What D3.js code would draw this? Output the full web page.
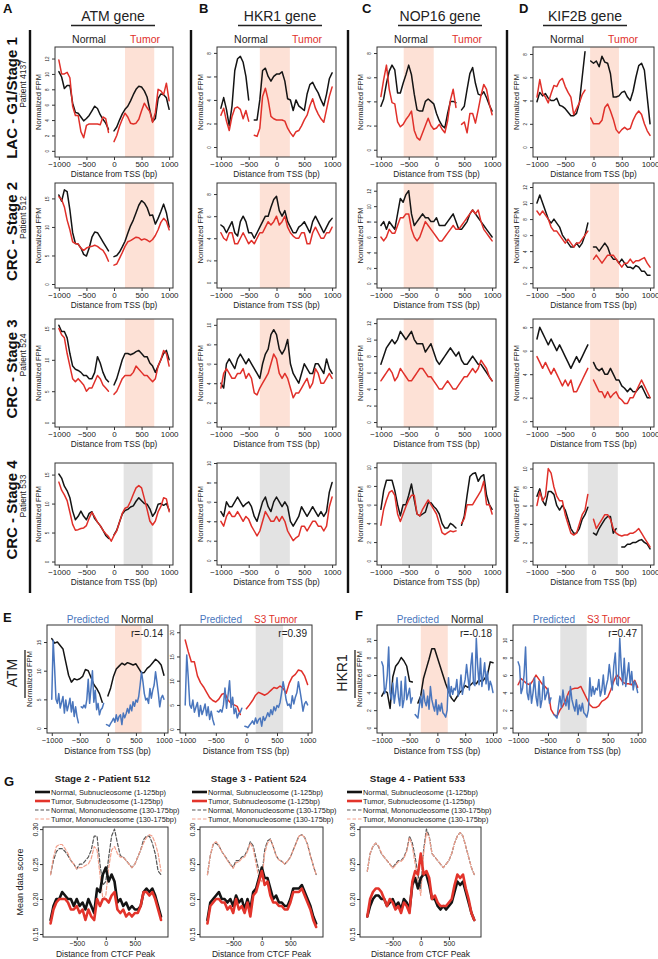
<!DOCTYPE html>
<html><head><meta charset="utf-8">
<script src="https://cdn.jsdelivr.net/npm/d3@7"></script>
<style>
body{margin:0;background:#fff;}
svg{display:block;font-family:Arial,"Liberation Sans",Helvetica,sans-serif;}
</style></head><body>
<svg id="c" width="658" height="959"></svg>
<script>
// ---------------- DATA ----------------
const BP = [-1000,-950,-900,-850,-800,-750,-700,-650,-600,-550,-500,-450,-400,-350,-300,-250,-200,-150,-100,-50,0,50,100,150,200,250,300,350,400,450,500,550,600,650,700,750,800,850,900,950,1000];
const BP25 = [-1000,-975,-950,-925,-900,-875,-850,-825,-800,-775,-750,-725,-700,-675,-650,-625,-600,-575,-550,-525,-500,-475,-450,-425,-400,-375,-350,-325,-300,-275,-250,-225,-200,-175,-150,-125,-100,-75,-50,-25,0,25,50,75,100,125,150,175,200,225,250,275,300,325,350,375,400,425,450,475,500,525,550,575,600,625,650,675,700,725,750,775,800,825,850,875,900,925,950,975,1000];
const BPG = [-950,-900,-850,-800,-750,-700,-650,-600,-550,-500,-450,-400,-350,-300,-250,-200,-150,-100,-50,0,50,100,150,200,250,300,350,400,450,500,550,600,650,700,750,800,850,900,950];

const genes = ["ATM gene","HKR1 gene","NOP16 gene","KIF2B gene"];
const letters = ["A","B","C","D"];
const stages = ["LAC - G1/Stage 1","CRC - Stage 2","CRC - Stage 3","CRC - Stage 4"];
const patients = ["Patient 4137","Patient 512","Patient 524","Patient 533"];
const shadeS13 = [[200,730],[-300,240],[-590,-50],[-60,450]];
const shadeS4 = [[175,700],[-300,240],[-620,-80],[-100,430]];
const xTicksTSS = [-1000,-500,0,500,1000];

// Row 1 (LAC stage 1)
const A1N=[10.3,9.6,8.1,8.5,8.5,6.2,5,4.9,4.4,3.9, 4.2,4.6,5.2,5.8,5.5,4.7,4.1,3.6,2.8,null, 2.6,3.1,4,4.8,5.4,5.8,6.5,7.3,8,8.4, 8.3,7.8,7,5.3,3.8,4.2,6.8,7.4,7.3,6.9, 5.4];
const A1T=[11.8,10,10,10.2,9.5,5.8,4.6,4.6,2.5,1.7, 3.3,3.5,3.5,3.5,3.5,3.4,4.4,4.2,2.4,null, 1.2,2,3.2,4.1,4.9,4.4,3.6,3.5,3.6,4.1, 5.2,6.2,5.6,5.1,3.7,5,8,7.8,7.3,8.8, 6.5];
const B1N=[3.3,4.2,3.2,1.8,3.5,6.5,7.5,7.7,7.2,6, 4,null,2.3,2.3,4,6.5,6.7,6,5.6,6, 6.2,6.2,6.4,5.6,4.1,4,3.1,4,3.5,3.3, 3.1,4.5,5.3,5.5,5,4.6,4,3.5,4.5,5.8, 6.3];
const B1T=[2.7,3.3,2.2,1.4,2.6,3.3,3.4,3.2,2.4,3.1, 2.2,null,1,0.9,1.6,4.3,5,4,2.6,2.4, 2.3,2.3,2.3,2.2,1.6,1.2,0.9,1.3,1.4,1.8, 2.3,2.7,3.5,4.1,3.3,2.8,2.4,2.1,3.2,4.3, 5.1];
const C1N=[3.6,4.2,5.5,6.5,7,6.6,4.7,4.7,5.5,6.2, 7,6.2,4.6,3.3,3.2,3.2,4,4.2,4,3.8, 3,2.4,2,1.8,3,4,4,3.9,null,3.3, 3.6,5,6.3,6.8,5.5,4.6,4.5,4.8,4.3,3.7, 3.2];
const C1T=[4.4,5.8,7,5,3.9,3.8,2.3,1.9,2.1,2.5, 2.8,3.2,1.6,1,0.8,1.4,2,2.6,2,1.7, 1.8,2.1,1.7,1.4,2.4,4.1,5,3.5,null,2.1, 2.3,1.4,3,3,2.2,3.3,4.5,5.4,5,3.8, 2.9];
const D1N=[3.9,4.7,4.4,4.6,4.2,4,4,4.2,3.6,3.5, 3.3,3,2.7,2.7,2.9,3.8,6,8.2,null,7.4, 7.2,7.4,6.9,7.8,7.3,7.2,6.3,4.3,4.3,4.4, 4.7,4.8,4.3,4,4.8,6,7,7.2,6.6,4.3, 2];
const D1T=[4.3,5.8,4.6,4.3,3.8,4.6,5.3,5.2,5.7,5.9, 5.2,4.7,4.3,2.8,3.3,3.8,4.5,4.9,null,2.5, 2,2,2,2.3,3.4,3.7,3.1,2.4,1.5,1.2, 1.5,1.7,1.5,1.6,2.3,2.8,3.1,2.8,2,1.4, 1];
// Row 2 (CRC stage 2)
const A2N=[15.6,14.5,16.5,16.2,13,9,7.1,7,6.3,5.2, 4.9,6.3,8.2,9.1,9,8.2,7.4,6.6,5.8,null, 4.8,5,5.6,6.5,7.5,8.9,10.2,11.2,12.5,13.8, 14.6,14.2,13.4,12,12.1,10.5,11.5,12.7,14,12.5, 10];
const A2T=[15.3,14.8,13.5,11.2,9.5,7.4,7.1,7,6.3,5.9, 6.3,6.5,6.6,6.8,6.6,6.2,5.9,5.1,4,null, 3.3,3.5,4.5,5.5,6.6,7.4,7.6,7.9,8.2,8.1, 7.7,7.9,7.7,7.4,7.8,8.5,9.5,10.8,11.5,11, 9.5];
const B2N=[5.2,5,4.5,5,5.5,4.5,4.2,5.5,6,5.5, 4.5,4.5,4,4.5,5,5.5,6,6,6.8,7.5, 7.8,6.5,6,6.5,5.5,5,4.5,4.5,5,5.2, 5.5,5,4.5,5.5,6,5.5,5,4.5,5,5.5, 5.8];
const B2T=[4.5,4,3.8,4.5,4.5,3.5,3.5,4,4.5,4, 3.5,3.8,3.5,4,4.5,4.5,5,5.5,5.2,5.5, 6,5.2,5.5,6,5,4.5,4.2,4,4,4.5, 4.5,3.5,3.5,4.5,5,4.5,4,4,4.5,4.5, 5];
const C2N=[7.5,8,7,8,7.5,7,9,11,10.5,11.5, 12,9,7.5,8,8.5,9,8.5,8.5,8,8, 8.5,7.5,7.5,7.5,8,8.5,9,8,7,7, 7.5,8,9,9.5,9,8.5,8,7.5,7,6.5, 6];
const C2T=[6,5.5,6,7,6.5,6.5,7.5,8.5,8.5,9, 9,7,6,5.5,6,7,8,7.5,7,6.5, 6,5.5,5.5,6,6.5,7,7.5,7,7,7.5, 8,8.5,9,9.5,9,9.5,8,7,6.5,6, 5.5];
const D2N=[10,11,10,9,8,7.5,8,7.5,7,6, 5.5,5,4.5,4.5,5,4.5,5,6,7.5,null, 4.5,4.5,4,4.5,5,4.5,3.5,3,3,2.5, 3,2.5,2,2,1.8,2.2,2,1.5,1.5,1, 1];
const D2T=[9,8.5,9,8.5,8,7,6.5,6.5,6,5.5, 5,5.5,5,4.5,5,5,5.5,6,6.5,null, 3,3.5,3,2.5,3,3.5,3.5,3.5,3,2.5, 2,2.5,2.5,3,2.5,2.8,2.8,3,3.2,2.5, 2];
// Row 3 (CRC stage 3)
const A3N=[15.5,14.5,14.5,13.5,11,9,8.5,8.3,8,7.5, 7.5,7,7,8,10.5,9.5,8,7,6.5,null, 6,7,8.5,10,11,11,10.8,11,11.3,11.5, 11,10.5,10.5,9.5,9,8,9,10,11,11.5, 10];
const A3T=[15,14,13.5,11,9,7,6.5,7,6.5,6, 5,5.5,5.5,6.5,7.5,7,6,5.5,5,null, 4.5,5,6,7,7.5,7.5,7.5,8,9,8.5, 8,7.5,7.5,7,6.5,7,9,10,11.5,11, 9];
const B3N=[4,3.5,6,6.5,6,5.5,6.5,7,6.5,6, 6.5,6,5.5,5,4.5,6,7,7.5,9,9.5, 9,7.5,7,7.5,8.5,6,5,4.5,4,5, 6,5.5,5,5,6,6,5.5,5,6.5,5.5, 5];
const B3T=[3.5,5,5.5,5,4.5,4.5,5,5,5.5,4.5, 5,4.5,3,2.8,3.5,4,4.5,5,6,7, 6.5,5,4.5,5,4.5,3.5,2.5,3,3,3.5, 4,4.5,3.5,4,5.5,5,4,4,4.5,5, 4.5];
const C3N=[7,8,9,9.5,10,9.5,10,11,10.5,10, 10.5,11,10,9.5,9.5,9.5,8.5,9,9.5,8.5, 7.5,7,7.5,8,8.5,9,8.5,8,8.5,7.5, 7,7,7.5,8,7.5,7,7,6.5,6,5.5, 5];
const C3T=[5,5.5,6,6.5,6,5,5.5,6.5,6,5.5, 5,5,5.5,6,6.5,6.5,6,5.5,5.5,5, 4.5,4,4,4.5,5,4.5,4,4,4.5,5, 5.5,5.5,6,6.5,6,6.5,7.5,7,6.5,5.5, 5];
const D3N=[7,8,7.5,7,6.5,7,6.5,6,6.5,6, 5.5,5,4.5,5,5.5,5,5.5,6,6.5,null, 5,4.5,4.3,4.5,4,4,4.5,4,3.5,3.5, 3,2.8,2.5,2.8,2.5,2.5,2.8,3,2.5,2, 2];
const D3T=[5.5,5,4.5,5,4.5,4,4.5,4,3.5,3, 3.5,3,3.5,2.5,2.5,3,3.5,4,4.5,null, 3.5,3,2.5,2.5,2,2.5,2,2.3,2.5,2, 1.8,1.5,1.5,2,2,2.5,3,3.5,3,2.5, 2];
// Row 4 (CRC stage 4)
const A4N=[15.1,14.4,13,12.2,11,8.7,7.2,7.8,8.7,7.8, 7.2,8.3,8.6,7.4,6.8,6.2,5.4,4.5,4,null, 4.6,5.4,6.8,8.2,8.8,9,9.4,9.6,10.4,11, 10.5,10,9.9,9.1,7.8,8.5,9.9,10,9.7,10, 8.9];
const A4T=[13.7,12.3,11.5,10.5,8.5,6.4,5.4,5.5,5.7,5.8, 6.2,7.5,8.5,7.7,6.8,6.2,5.4,4.8,4.3,3.5, 4.5,5.3,6.8,8.3,9.2,9.4,10.4,11.6,12.7,13.1, 12.7,10.9,9,7,6.3,7,8.6,9.5,11,10.8, 8.6];
const B4N=[5,4.5,6,5.5,5.5,6,6.5,6,5.5,5.8, 6,5.5,4.5,4,5,6,6.5,5.5,5,6, 6.5,6,5.5,6,5.5,4,3.5,4,4.5,5.5, 5,4.5,5,5.5,5,4.5,5,4.5,5,7, 8];
const B4T=[4,3.5,4.5,5,4.5,4.5,5,4.5,4,4.5, 4.2,3.5,3,2.5,3,4,5,4.5,4,4, 4.5,4,4.5,4,3,2.5,2,2.3,2.5,3.5, 3.5,3,3.5,4,4,3.5,3.5,3,3.5,5.5, 6.5];
const C4N=[5.5,7.5,8.6,8.6,8.6,7.5,6,4.8,6,6, 7,8.2,6.5,5,4.8,5,5.2,6.2,6.2,5.8, 5.5,5,4,3.5,3.5,4,3.8,3.5,null,3.8, 4.8,7,9,9.3,9.4,8.5,9,9.2,7,6, 5.5];
const C4T=[3.8,5.5,6.5,7.3,7.5,7,5,4.2,5,5.8, 6.5,7,7,5,4.8,5.5,6,6.5,6,5.5, 5,4,3,2.8,3,3.2,3.1,3.2,null,4, 4.5,6,6,6,6.5,7,7.5,8.5,6,6, 5];
const D4N=[7,7.8,6.5,6,7.5,7.5,7.2,6,5.5,6, 5.5,4.5,3.5,3,3,3.5,4.5,5,5.8,null, 3,2.8,3.5,4,4.5,4.8,4.8,3,3.5,null, 1.5,1.5,1.8,1.8,2,2,2.2,2.3,2,1.8, 1.3];
const D4T=[6,7.5,6.5,7,10,9.5,8,7,6.5,6.5, 5,4,3,2.8,3,4,5,5.5,7.2,null, 4.5,3.5,4,4.5,5,5,4.5,3.5,3,2.8, 2.7,2.8,2.8,3,3,3.2,3.5,3,2.5,2, 1.5];

// E / F panels
const predATM=[5,15.3,10.6,5,4.3,6,3.5,4.5,5.5,2.6, 4.9,3,4,5.2,2.8,4.6,2,3.7,2,0.9, null,3.7,3.5,4,3.5,5,8.5,4.3,7,10, 4.5,6.6,3.2,4.3,2.3,3.2,3.5,4.3,null,0.6, 0.5,0.3,0.8,1.2,1.7,1,2.3,1.2,2,2.3, 0.6,2.6,1.8,2.5,3.4,2.6,4,3,4.6,3.8, 4.9,4.5,5.5,7.5,9.8,8.1,6,4.9,5.2,4.3, 6.9,5.2,6.6,7.5,9.8,8,6,3.7,5.2,5.7, 5];
const atmNormal=[15.6,14.8,15,14.4,13.8,11.5,9.2,8,8.6,8.4, 8.6,9,10.2,10,8.8,7.6,6.9,6,4.5,null, 5.6,7,9,10.3,10.8,11.3,11,11.4,11.2,11, 11.2,10.4,9.6,9.7,10.4,10.8,11.4,12,11.6,11, 9.2];
const atmS3=[18.4,16,13.9,13.9,11,9.6,8.7,7.6,6.5,5.9, 5.6,6.2,7.2,7.4,6,5.3,5,4.7,3,null, 4.2,5,5.9,7,7.6,7.3,7,7.4,8,8.6, 8.4,8.9,8.4,7.4,9.5,10.8,11.3,12.2,12,11, 9.2];
const predHKR1=[7.5,7,3.9,4.5,6,9.2,4,3.2,5.1,2.8, 4,5.7,3.5,2.5,5.3,2.3,3.2,5.8,3.2,3.8, 4.5,2.8,3.4,null,1.5,1.3,1.1,2.4,3.6,2.3, 4.3,3,2.5,3.6,2.1,4.7,3.2,2.5,1.9,3.2, 1.5,2.6,1.9,2.8,1.7,1.5,1.2,2,5.7,3.6, 4.7,3.8,4.5,4.3,5.5,3.6,4.3,6,3.8,4.8, 5.5,7.2,5.7,4.3,7,8.5,5,4.8,10.2,7, 4.9,7.9,4.7,6,7.4,5,6.4,4.3,5.3,4.8, 4];
const hkr1Normal=[3.6,4.2,4,2.2,5.8,7,7.4,8,7.6,7, 5.3,5.2,null,2.8,3.6,5.6,6.7,7.8,9,9, 8,7,6,5,4.2,3.4,3,3.5,4,4.3, 4.8,4.6,4.9,5.2,5,5.5,5.2,5.6,6,7.5, 7.4];
const hkr1S3=[4.9,5.6,5.3,5,4.9,5.4,6,5.5,5,4.7, 4.3,2.1,1.5,1.3,2,2.5,3.2,4.1,4.4,4.5, 4.5,4.7,4,3.3,2.6,2.3,2.3,2.5,3,3.2, 3.5,4.3,5.3,6,5.7,5.2,5,5,4.9,5.4, 4.6];

// G panels (CTCF)
const gTitles=["Stage 2 - Patient 512","Stage 3 - Patient 524","Stage 4 - Patient 533"];
const gLegend=["Normal, Subnucleosome (1-125bp)","Tumor, Subnucleosome (1-125bp)","Normal, Mononucleosome (130-175bp)","Tumor, Mononucleosome (130-175bp)"];
const gTicksX=[-500,0,500];
const gTicksY=[0.15,0.20,0.25,0.30];
const G1NS=[.17,.19,.2,.2,.21,.205,.2,.2,.19,.2, .19,.195,.185,.2,.19,.18,.215,.21,.235,.245, .225,.235,.225,.195,.2,.19,.195,.185,.19,.185, .185,.19,.21,.215,.21,.215,.205,.19,.175];
const G1TS=[.165,.185,.195,.2,.2,.2,.195,.185,.185,.19, .18,.185,.17,.185,.175,.17,.2,.19,.2,.2, .195,.205,.21,.185,.18,.185,.175,.18,.175,.18, .18,.19,.21,.21,.205,.21,.2,.185,.17];
const G1NM=[.235,.255,.268,.272,.272,.268,.262,.255,.25,.243, .25,.25,.255,.26,.27,.29,.29,.25,.22,.225, .26,.29,.3,.28,.262,.26,.255,.25,.245,.25, .26,.27,.285,.29,.29,.28,.265,.24,.235];
const G1TM=[.235,.26,.275,.278,.278,.272,.265,.255,.25,.243, .245,.245,.248,.25,.258,.275,.27,.235,.2,.205, .245,.27,.275,.265,.26,.26,.255,.25,.245,.25, .26,.27,.28,.288,.292,.29,.28,.265,.24];
const G2NS=[.17,.195,.2,.205,.21,.2,.2,.195,.2,.19, .205,.195,.2,.185,.2,.185,.21,.215,.23,.245, .23,.23,.215,.2,.205,.195,.195,.19,.19,.2, .215,.215,.215,.22,.21,.2,.19,.175,.165];
const G2TS=[.165,.19,.195,.2,.2,.195,.195,.185,.19,.18, .2,.185,.19,.18,.195,.175,.205,.21,.225,.24, .22,.225,.205,.195,.195,.19,.19,.185,.185,.195, .21,.21,.21,.215,.205,.195,.185,.17,.16];
const G2NM=[.235,.262,.278,.28,.276,.268,.262,.256,.25,.245, .255,.255,.26,.262,.27,.282,.276,.258,.24,.232, .27,.283,.286,.275,.262,.256,.254,.25,.254,.26, .27,.28,.29,.292,.288,.278,.262,.248,.235];
const G2TM=[.235,.262,.279,.282,.277,.268,.262,.255,.249,.244, .252,.253,.258,.26,.268,.28,.272,.25,.23,.225, .265,.28,.285,.275,.262,.256,.254,.25,.254,.26, .27,.28,.29,.292,.288,.278,.262,.248,.235];
const G3NS=[.175,.19,.2,.205,.205,.2,.2,.19,.195,.2, .19,.195,.185,.2,.195,.185,.22,.23,.215,.23, .235,.235,.22,.2,.2,.19,.185,.19,.185,.19, .195,.21,.225,.22,.225,.21,.195,.18,.17];
const G3TS=[.175,.2,.21,.215,.215,.21,.2,.19,.2,.195, .185,.19,.18,.195,.19,.18,.225,.24,.235,.265, .235,.24,.23,.2,.205,.195,.19,.19,.19,.195, .2,.22,.235,.23,.235,.215,.2,.18,.17];
const G3NM=[.24,.265,.275,.28,.275,.265,.26,.255,.25,.245, .25,.255,.255,.26,.27,.29,.28,.26,.235,.215, .27,.3,.29,.265,.26,.255,.25,.245,.25,.255, .265,.28,.29,.295,.29,.275,.26,.245,.235];
const G3TM=[.24,.265,.276,.28,.276,.266,.26,.255,.25,.244, .248,.253,.254,.258,.268,.288,.275,.25,.225,.205, .265,.295,.288,.265,.26,.255,.25,.245,.25,.255, .265,.28,.29,.295,.29,.275,.26,.245,.235];

// ---------------- DRAWING ----------------
const svg = d3.select("#c");
const BLACK="#141414", RED="#e0302a", BLUE="#4a76bd", PINK="#fde1d6", GREY="#e3e3e3";
const fmtX = d => d<0 ? "\u2212"+(-d) : String(d);

function panel(o){
  const g = svg.append("g");
  const x = d3.scaleLinear().domain(o.xDom).range([o.x, o.x+o.w]);
  const y = d3.scaleLinear().domain(o.yDom).range([o.y+o.h, o.y]);
  if(o.shade){
    g.append("rect").attr("x",x(o.shade[0])).attr("y",o.y).attr("width",x(o.shade[1])-x(o.shade[0]))
      .attr("height",o.h).attr("fill",o.shadeColor);
  }
  const line = d3.line().defined(d=>d.v!=null).x(d=>x(d.x)).y(d=>y(d.v)).curve(d3.curveLinear);
  o.series.forEach(s=>{
    g.append("path").datum(s.xs.map((xx,i)=>({x:xx,v:s.vs[i]})))
      .attr("fill","none").attr("stroke",s.color).attr("stroke-width",s.w)
      .attr("stroke-dasharray",s.dash||null).attr("stroke-linejoin","round").attr("stroke-linecap","round")
      .attr("d",line);
  });
  g.append("rect").attr("x",o.x).attr("y",o.y).attr("width",o.w).attr("height",o.h)
    .attr("fill","none").attr("stroke","#333").attr("stroke-width",1);
  const xa = g.append("g").attr("transform",`translate(0,${o.y+o.h})`)
    .call(d3.axisBottom(x).tickValues(o.xTicks).tickSize(3).tickPadding(1.5).tickFormat(fmtX));
  xa.attr("font-family",null).attr("font-size",null);
  xa.select(".domain").remove();
  xa.selectAll("line").attr("stroke","#333");
  xa.selectAll("text").attr("font-size",o.xFs).attr("fill","#222");
  const ya = g.append("g").attr("transform",`translate(${o.x},0)`)
    .call(d3.axisLeft(y).tickValues(o.yTicks).tickSize(3).tickFormat(o.yFmt||(d=>d)));
  ya.attr("font-family",null).attr("font-size",null);
  ya.select(".domain").remove();
  ya.selectAll("line").attr("stroke","#333");
  ya.selectAll("text").attr("x",null).attr("dy",null).attr("text-anchor","middle")
    .attr("transform",`translate(${-o.yLabOff},0) rotate(-90)`)
    .attr("font-size",o.yFs).attr("fill","#222");
  if(o.yTitle){
    g.append("text").attr("transform",`translate(${o.x-o.yTitleOff},${o.y+o.h/2}) rotate(-90)`)
      .attr("text-anchor","middle").attr("font-size",o.yTitleFs).attr("fill","#222").text(o.yTitle);
  }
  if(o.xTitle){
    g.append("text").attr("x",o.x+o.w/2).attr("y",o.y+o.h+o.xTitleOff).attr("text-anchor","middle")
      .attr("font-size",o.xTitleFs).attr("fill","#222").text(o.xTitle);
  }
  return {x,y,g};
}
function text(x,y,str,opts){
  const t = svg.append("text").attr("x",x).attr("y",y).text(str);
  Object.entries(opts||{}).forEach(([k,v])=>t.attr(k,v));
  return t;
}

// ---- top grid ----
const colX=[55,217,377,533], colW=[118,119,119,121];
const rowY=[47,183,319,463], rowH=[110,105,108,102];
const ev = (a,b,s)=>d3.range(a,b+0.001,s);
const grid = [
  [[A1N,A1T,[-0.8,13.5],ev(0,12,2)],[B1N,B1T,[-0.85,8.5],ev(0,8,2)],[C1N,C1T,[-0.6,8.5],ev(0,8,2)],[D1N,D1T,[-0.85,8.6],ev(0,8,2)]],
  [[A2N,A2T,[-0.7,17.7],ev(0,15,5)],[B2N,B2T,[-0.5,9],ev(0,8,2)],[C2N,C2T,[-0.6,13],ev(0,12,2)],[D2N,D2T,[-0.6,12.5],ev(0,12,2)]],
  [[A3N,A3T,[-0.7,16.5],ev(0,15,5)],[B3N,B3T,[-0.5,10.6],ev(0,10,2)],[C3N,C3T,[-0.6,12.5],ev(0,12,2)],[D3N,D3T,[-0.5,8.7],ev(0,8,2)]],
  [[A4N,A4T,[-0.6,17],ev(0,15,5)],[B4N,B4T,[-0.5,10],ev(0,10,2)],[C4N,C4T,[-0.45,10.45],ev(0,10,2)],[D4N,D4T,[-0.45,10.6],ev(0,10,2)]]
];
grid.forEach((row,r)=>{
  row.forEach((cell,c)=>{
    const sh = r<3 ? shadeS13[c] : shadeS4[c];
    panel({x:colX[c],y:rowY[r],w:colW[c],h:rowH[r],xDom:[-1070,1070],yDom:cell[2],
      shade:sh,shadeColor:r<3?PINK:GREY,
      series:[{xs:BP,vs:cell[0],color:BLACK,w:1.5},{xs:BP,vs:cell[1],color:RED,w:1.5}],
      xTicks:xTicksTSS,yTicks:cell[3],xFs:8,yFs:4.5,yLabOff:6,
      yTitle:"Normalized FPM",yTitleOff:14,yTitleFs:7.5,
      xTitle:"Distance from TSS (bp)",xTitleOff:20,xTitleFs:8.3});
  });
});
// column headers
const titleX=[113,280,440,585];
const letterX=[3,199,362,519];
genes.forEach((gname,c)=>{
  text(letterX[c],13,letters[c],{"font-size":13,"font-weight":"bold","fill":"#111"});
  text(titleX[c],21,gname,{"font-size":14,"text-anchor":"middle","fill":"#222"});
  svg.append("line").attr("x1",titleX[c]-42).attr("x2",titleX[c]+42).attr("y1",25.5).attr("y2",25.5)
    .attr("stroke","#222").attr("stroke-width",1.3);
  text(colX[c]+34,43,"Normal",{"font-size":10.5,"text-anchor":"middle","fill":"#222"});
  text(colX[c]+90,43,"Tumor",{"font-size":10.5,"text-anchor":"middle","fill":RED});
});
// vertical separators
[30,191,348,507].forEach(xv=>{
  svg.append("line").attr("x1",xv).attr("x2",xv).attr("y1",30).attr("y2",593)
    .attr("stroke","#111").attr("stroke-width",2.4);
});
// row labels
stages.forEach((s,r)=>{
  const cy = rowY[r]+rowH[r]/2;
  text(0,0,s,{"transform":`translate(12,${cy-4}) rotate(-90)`,"dy":"0.35em","text-anchor":"middle","font-size":15,"font-weight":"bold","fill":"#111"});
  text(0,0,patients[r],{"transform":`translate(23.5,${cy-18}) rotate(-90)`,"dy":"0.35em","text-anchor":"middle","font-size":8.5,"fill":"#222"});
});

// ---- E / F ----
const efY=625, efH=108;
const efPanels=[
  {x:47,w:121,pred:predATM,obs:atmNormal,obsColor:BLACK,yDom:[-0.87,17.97],yT:[0,5,10,15],shade:[128,602],sc:PINK,lab:"Normal",r:"r=-0.14",yTitle:true},
  {x:180,w:132,pred:predATM,obs:atmS3,obsColor:RED,yDom:[-0.8,21.5],yT:[0,5,10,15,20],shade:[152,600],sc:GREY,lab:"S3 Tumor",r:"r=0.39",yTitle:false},
  {x:377,w:120,pred:predHKR1,obs:hkr1Normal,obsColor:BLACK,yDom:[-0.6,11.7],yT:[0,2,4,6,8,10],shade:[-298,187],sc:PINK,lab:"Normal",r:"r=-0.18",yTitle:true},
  {x:513,w:129,pred:predHKR1,obs:hkr1S3,obsColor:RED,yDom:[-0.6,11.7],yT:[0,2,4,6,8,10],shade:[-294,147],sc:GREY,lab:"S3 Tumor",r:"r=0.47",yTitle:false}
];
efPanels.forEach(p=>{
  panel({x:p.x,y:efY,w:p.w,h:efH,xDom:[-1085,1072],yDom:p.yDom,shade:p.shade,shadeColor:p.sc,
    series:[{xs:BP,vs:p.obs,color:p.obsColor,w:1.5},{xs:BP25,vs:p.pred,color:BLUE,w:1.5}],
    xTicks:xTicksTSS,yTicks:p.yT,xFs:7.5,yFs:5,yLabOff:6,
    yTitle:p.yTitle?"Normalized FPM":null,yTitleOff:15,yTitleFs:7.5,
    xTitle:"Distance from TSS (bp)",xTitleOff:21,xTitleFs:8.3});
  text(p.x+62,623,"Predicted",{"font-size":10,"text-anchor":"end","fill":BLUE});
  text(p.x+74,623,p.lab,{"font-size":10,"text-anchor":"start","fill":p.obsColor===RED?RED:"#222"});
  text(p.x+p.w-5,637,p.r,{"font-size":10,"text-anchor":"end","fill":"#222"});
});
text(3,622,"E",{"font-size":13,"font-weight":"bold","fill":"#111"});
text(355,620,"F",{"font-size":13,"font-weight":"bold","fill":"#111"});
text(0,0,"ATM",{"transform":"translate(12,673) rotate(-90)","dy":"0.35em","text-anchor":"middle","font-size":14,"fill":"#222"});
text(0,0,"HKR1",{"transform":"translate(342,673) rotate(-90)","dy":"0.35em","text-anchor":"middle","font-size":14,"fill":"#222"});
svg.append("line").attr("x1",25).attr("x2",25).attr("y1",650).attr("y2",698).attr("stroke","#222").attr("stroke-width",1.3);
svg.append("line").attr("x1",355).attr("x2",355).attr("y1",650).attr("y2",698).attr("stroke","#222").attr("stroke-width",1.3);

// ---- G ----
const gBox=[[43,125],[200,123],[360,121]];
const gLegX=[35,192,347];
const gData=[[G1NS,G1TS,G1NM,G1TM],[G2NS,G2TS,G2NM,G2TM],[G3NS,G3TS,G3NM,G3TM]];
const gStyles=[{color:BLACK,w:2.6},{color:"#e3342b",w:2.6},{color:"#555",w:1.2,dash:"3.5,2"},{color:"#f2a08c",w:1.2,dash:"3.5,2"}];
gData.forEach((d,i)=>{
  const [bx,bw]=gBox[i];
  panel({x:bx,y:827,w:bw,h:110,xDom:[-1080,1070],yDom:[0.1457,0.303],
    series:[2,3,0,1].map(k=>({xs:BPG,vs:d[k],...gStyles[k]})),
    xTicks:gTicksX,yTicks:gTicksY,yFmt:d3.format(".2f"),xFs:7,yFs:7,yLabOff:5,
    yTitle:i===0?"Mean data score":null,yTitleOff:20,yTitleFs:9,
    xTitle:"Distance from CTCF Peak",xTitleOff:20,xTitleFs:8.5});
  text(bx+bw/2-3,782,gTitles[i],{"font-size":9.8,"font-weight":"bold","text-anchor":"middle","fill":"#222"});
  gLegend.forEach((lab,k)=>{
    const ly = 792 + k*9;
    const st = gStyles[k];
    svg.append("line").attr("x1",gLegX[i]).attr("x2",gLegX[i]+15).attr("y1",ly).attr("y2",ly)
      .attr("stroke",st.color).attr("stroke-width",st.dash?1.2:2.6).attr("stroke-dasharray",st.dash||null);
    text(gLegX[i]+16,ly+2.7,lab,{"font-size":7.4,"fill":"#222"});
  });
});
text(4,786,"G",{"font-size":13,"font-weight":"bold","fill":"#111"});
</script></body></html>
